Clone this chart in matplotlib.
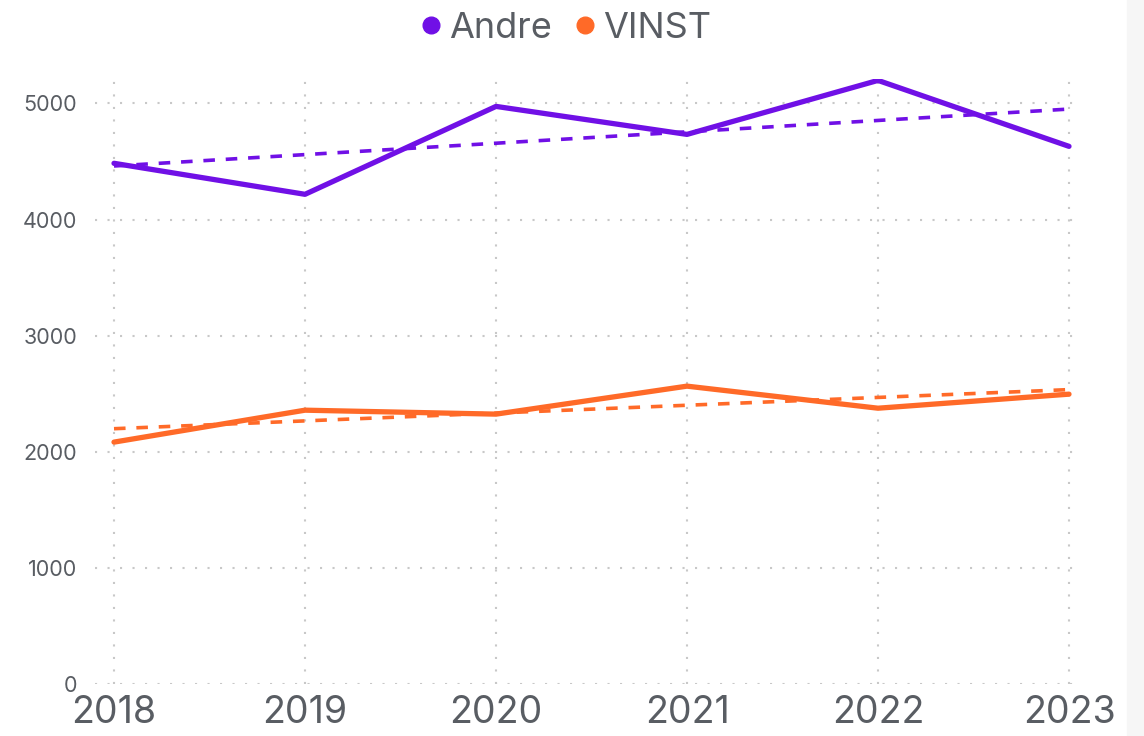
import matplotlib
matplotlib.use("Agg")
import matplotlib.pyplot as plt
import numpy as np
from matplotlib.lines import Line2D
from matplotlib.patches import Rectangle

years = [2018, 2019, 2020, 2021, 2022, 2023]
andre = [4484, 4217, 4974, 4733, 5198, 4630]
vinst = [2083, 2358, 2324, 2565, 2375, 2496]
series_names = ["Andre", "VINST"]
y_ticks = [0, 1000, 2000, 3000, 4000, 5000]

purple = "#7010e6"
orange = "#ff6a28"
text_gray = "#595d63"

plt.rcParams['font.family'] = ['Inter', 'DejaVu Sans']

fig = plt.figure(figsize=(11.44, 7.36), dpi=100)
ax = fig.add_axes([95/1144, 1-684/736, (1082-95)/1144, (684-79)/736])

x = np.array(years, dtype=float)
for vals, col in [(andre, purple), (vinst, orange)]:
    ax.plot(x, vals, color=col, lw=3.8, solid_capstyle='round', solid_joinstyle='round', zorder=3)
    coef = np.polyfit(x, vals, 1)
    ax.plot(x, np.polyval(coef, x), color=col, lw=2.6, linestyle=(0, (3.2, 3.0)), zorder=3)

ax.set_xlim(2018 - 19/191, 2023 + 13/191)
ax.set_ylim(0, 5210)
ax.set_xticks(years)
ax.set_xticklabels([str(y) for y in years])
ax.set_yticks(y_ticks)
ax.grid(True, color="#c8c8c8", linestyle=(0, (1, 5)), linewidth=1.5)
ax.set_axisbelow(True)
for s in ax.spines.values():
    s.set_visible(False)
ax.tick_params(axis='both', length=0)
ax.tick_params(axis='y', labelsize=15.5, labelcolor=text_gray, pad=13)
ax.tick_params(axis='x', labelsize=27, labelcolor=text_gray, pad=8)

handles = [Line2D([], [], marker='o', linestyle='', color=purple, markersize=12),
           Line2D([], [], marker='o', linestyle='', color=orange, markersize=12)]
fig.legend(handles, series_names, loc='center', bbox_to_anchor=(562/1144, 1-28/736),
           ncol=2, frameon=False, fontsize=26, labelcolor=text_gray,
           handletextpad=0.0, columnspacing=0.4, handlelength=1.0)

fig.patches.append(Rectangle((1127/1144, 0), 17/1144, 1, transform=fig.transFigure,
                             color="#f6f6f6", zorder=-1))

fig.savefig("out.png", dpi=100)
